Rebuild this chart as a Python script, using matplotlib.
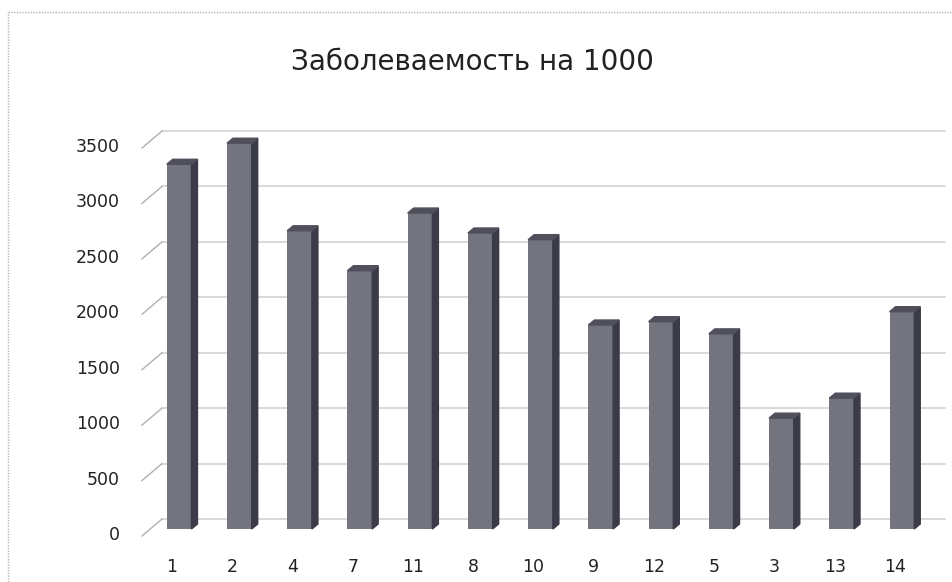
import matplotlib.pyplot as plt
import matplotlib.transforms as mtransforms
from matplotlib.patches import Polygon
import numpy as np

title = 'Заболеваемость на 1000'
categories = ['1', '2', '4', '7', '11', '8', '10', '9', '12', '5', '3', '13', '14']
values = [3290, 3480, 2690, 2330, 2850, 2670, 2610, 1840, 1870, 1760, 1000, 1180, 1960]
yticks = [0, 500, 1000, 1500, 2000, 2500, 3000, 3500]

front_col = '#74747f'
side_col = '#3a3a48'
top_col = '#50505c'
grid_col = '#d0d0d0'

plt.rcParams['font.family'] = ['DejaVu Sans']

W, H = 953, 582
fig = plt.figure(figsize=(W / 100, H / 100), dpi=100)
ax = fig.add_axes([149 / W, 53 / H, (932 - 149) / W, 388 / H])
ax.set_xlim(-0.5, len(categories) - 0.5)
ax.set_ylim(0, 3500)
ax.axis('off')

def px(dx, dy):
    return mtransforms.ScaledTranslation(dx / 100, dy / 100, fig.dpi_scale_trans)

# back wall gridlines, shifted up/right for the 3D look
back = ax.get_yaxis_transform() + px(13, 10)
yt = ax.get_yaxis_transform()
for v in yticks:
    ax.plot([0, 1], [v, v], transform=back, color=grid_col, lw=1.1, zorder=1, clip_on=False)
    # short diagonal tick from the front edge to the back wall
    p_front = yt.transform((0, v)) + np.array([-7, -7])
    p_back = yt.transform((0, v)) + np.array([13, 10])
    ax.plot([p_front[0], p_back[0]], [p_front[1], p_back[1]], transform=None,
            color='#b0b0b0', lw=1, clip_on=False, zorder=1)
    ax.text(0, v, str(v), transform=yt + px(-29, -6), ha='right', va='center',
            fontsize=12.5, color='#222222')

# bars with side and top faces
width = 0.41
ax.bar(range(len(values)), values, width=width, color=front_col, zorder=3)
fig.canvas.draw()
sx = ax.bbox.width / (ax.get_xlim()[1] - ax.get_xlim()[0])
sy = ax.bbox.height / (ax.get_ylim()[1] - ax.get_ylim()[0])
ddx, ddy = 6 / sx, 5 / sy
for i, v in enumerate(values):
    l, r = i - width / 2, i + width / 2
    side = Polygon([(r, 0), (r + ddx, ddy), (r + ddx, v + ddy), (r, v)],
                   closed=True, color=side_col, zorder=3, clip_on=False)
    top = Polygon([(l, v), (l + ddx, v + ddy), (r + ddx, v + ddy), (r, v)],
                  closed=True, color=top_col, zorder=3, clip_on=False)
    ax.add_patch(side)
    ax.add_patch(top)

# category labels
xt = ax.get_xaxis_transform()
for i, c in enumerate(categories):
    ax.text(i, 0, c, transform=xt + px(-7, -38), ha='center', va='center',
            fontsize=12.5, color='#222222')

fig.text(472 / W, 1 - 62 / H, title, ha='center', va='center', fontsize=20, color='#222222')

# chart border (dotted, light)
fig.add_artist(plt.Line2D([8 / W, 8 / W], [0, 1 - 12 / H], transform=fig.transFigure,
                          color='#b5b5b5', lw=1, ls=(0, (1, 1))))
fig.add_artist(plt.Line2D([8 / W, 1], [1 - 12 / H, 1 - 12 / H], transform=fig.transFigure,
                          color='#b5b5b5', lw=1, ls=(0, (1, 1))))

fig.savefig('out.png', dpi=100)
